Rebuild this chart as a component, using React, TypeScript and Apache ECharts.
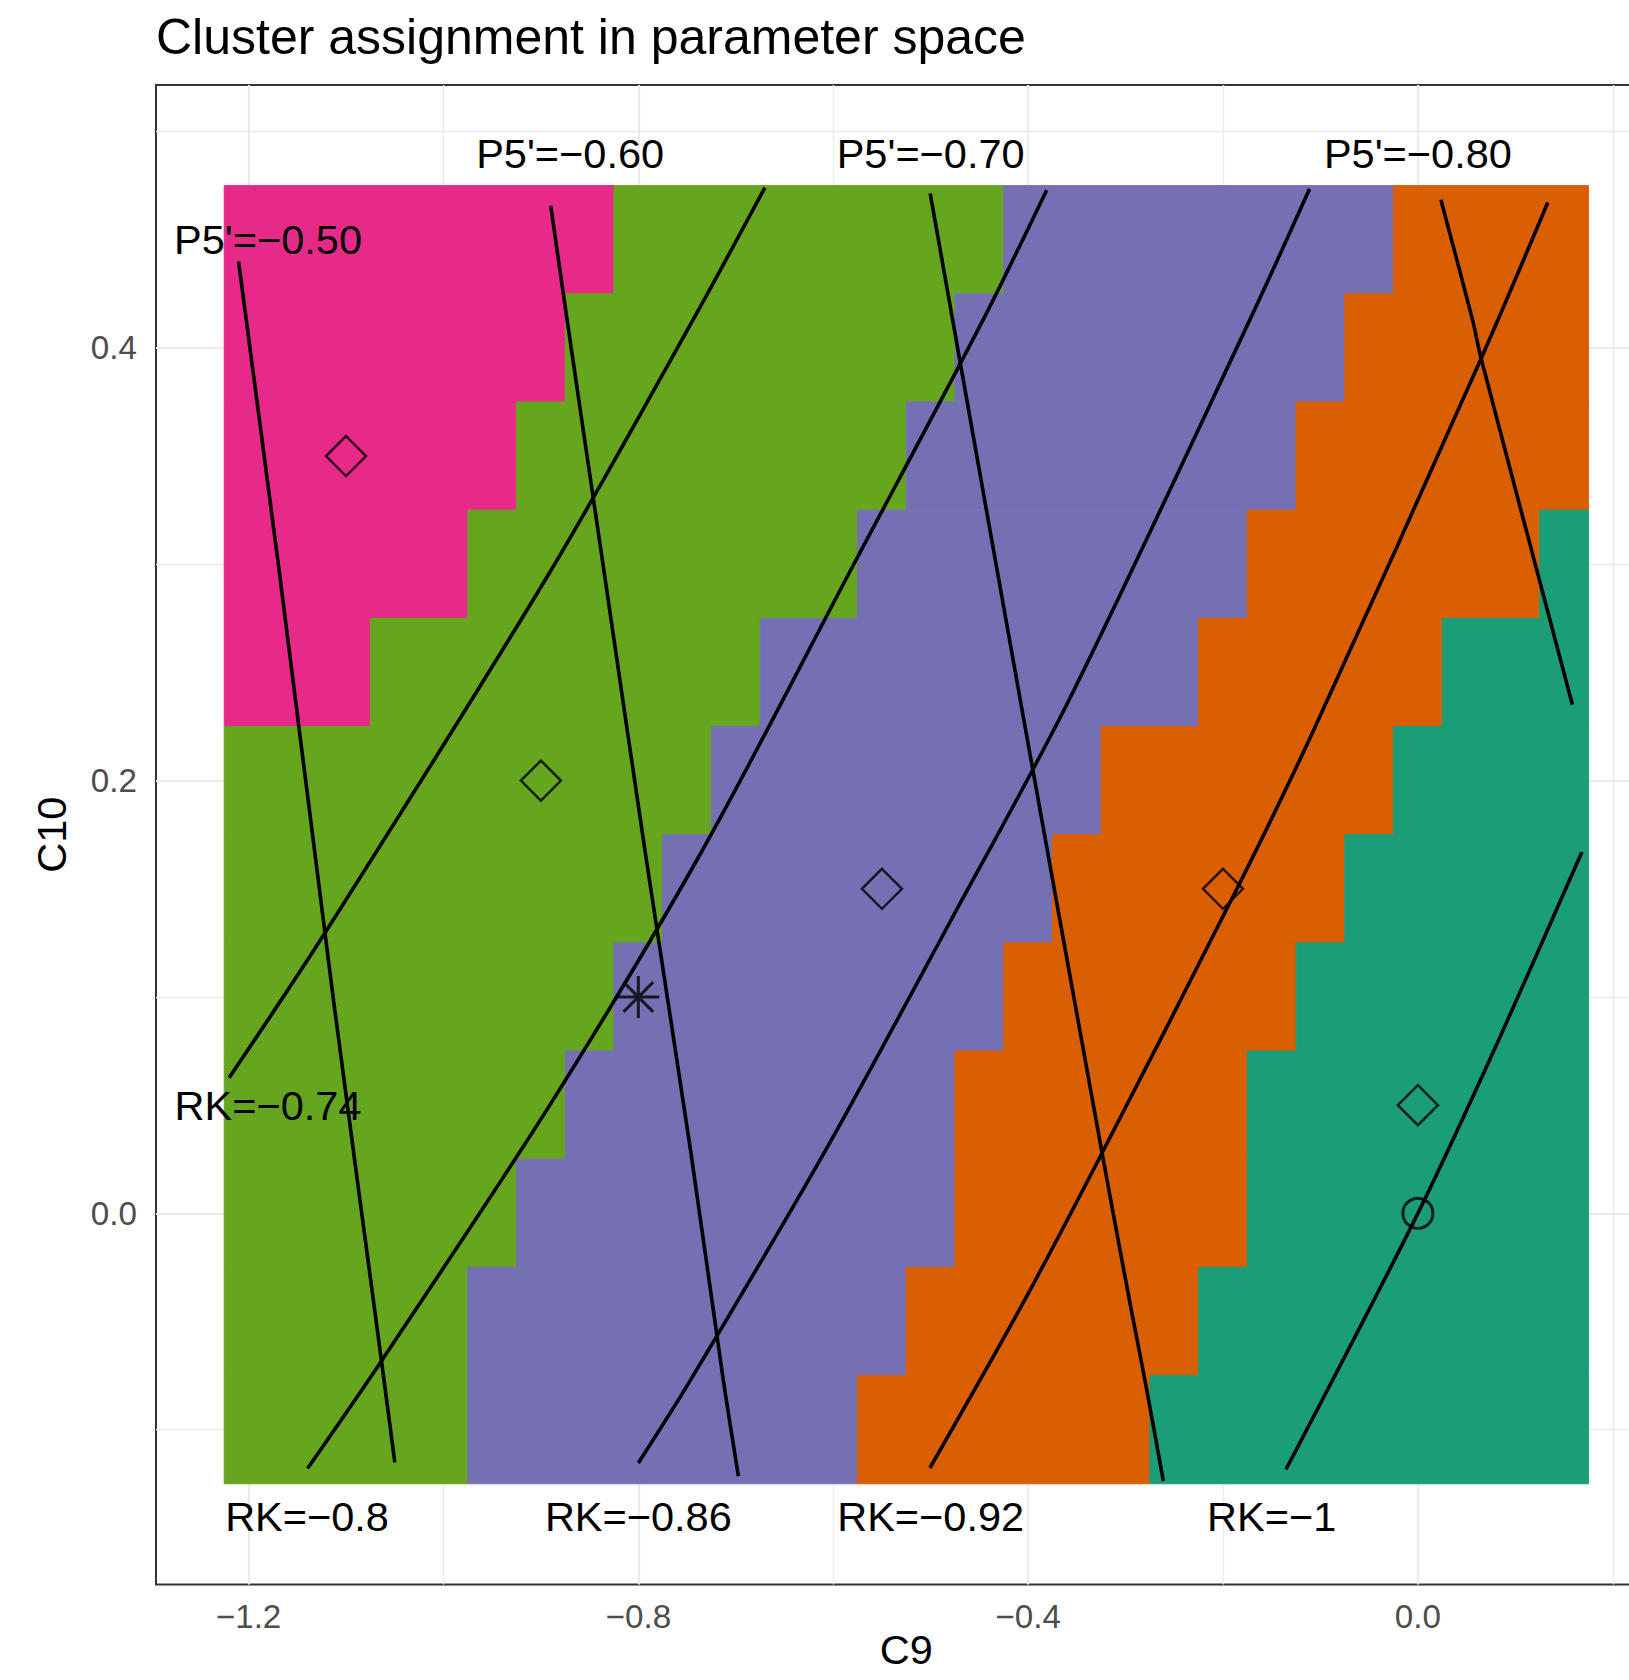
import React, { useEffect, useRef } from "react";
import * as echarts from "echarts";

// ---------- data ----------
const xValues = [-1.2, -1.15, -1.1, -1.05, -1.0, -0.95, -0.9, -0.85, -0.8, -0.75, -0.7, -0.65, -0.6, -0.55, -0.5, -0.45, -0.4, -0.35, -0.3, -0.25, -0.2, -0.15, -0.1, -0.05, 0.0, 0.05, 0.1, 0.15];
const yValues = [0.45, 0.4, 0.35, 0.3, 0.25, 0.2, 0.15, 0.1, 0.05, 0.0, -0.05, -0.1];

// cluster id per cell (rows follow yValues, columns follow xValues)
const clusterRows = [
  [1, 1, 1, 1, 1, 1, 1, 1, 2, 2, 2, 2, 2, 2, 2, 2, 3, 3, 3, 3, 3, 3, 3, 3, 4, 4, 4, 4],
  [1, 1, 1, 1, 1, 1, 1, 2, 2, 2, 2, 2, 2, 2, 2, 3, 3, 3, 3, 3, 3, 3, 3, 4, 4, 4, 4, 4],
  [1, 1, 1, 1, 1, 1, 2, 2, 2, 2, 2, 2, 2, 2, 3, 3, 3, 3, 3, 3, 3, 3, 4, 4, 4, 4, 4, 4],
  [1, 1, 1, 1, 1, 2, 2, 2, 2, 2, 2, 2, 2, 3, 3, 3, 3, 3, 3, 3, 3, 4, 4, 4, 4, 4, 4, 5],
  [1, 1, 1, 2, 2, 2, 2, 2, 2, 2, 2, 3, 3, 3, 3, 3, 3, 3, 3, 3, 4, 4, 4, 4, 4, 5, 5, 5],
  [2, 2, 2, 2, 2, 2, 2, 2, 2, 2, 3, 3, 3, 3, 3, 3, 3, 3, 4, 4, 4, 4, 4, 4, 5, 5, 5, 5],
  [2, 2, 2, 2, 2, 2, 2, 2, 2, 3, 3, 3, 3, 3, 3, 3, 3, 4, 4, 4, 4, 4, 4, 5, 5, 5, 5, 5],
  [2, 2, 2, 2, 2, 2, 2, 2, 3, 3, 3, 3, 3, 3, 3, 3, 4, 4, 4, 4, 4, 4, 5, 5, 5, 5, 5, 5],
  [2, 2, 2, 2, 2, 2, 2, 3, 3, 3, 3, 3, 3, 3, 3, 4, 4, 4, 4, 4, 4, 5, 5, 5, 5, 5, 5, 5],
  [2, 2, 2, 2, 2, 2, 3, 3, 3, 3, 3, 3, 3, 3, 3, 4, 4, 4, 4, 4, 4, 5, 5, 5, 5, 5, 5, 5],
  [2, 2, 2, 2, 2, 3, 3, 3, 3, 3, 3, 3, 3, 3, 4, 4, 4, 4, 4, 4, 5, 5, 5, 5, 5, 5, 5, 5],
  [2, 2, 2, 2, 2, 3, 3, 3, 3, 3, 3, 3, 3, 4, 4, 4, 4, 4, 4, 5, 5, 5, 5, 5, 5, 5, 5, 5],
];

// contour lines of P5' (steep) and RK (diagonal)
const p5Minus050 = [[-1.2103, 0.4399], [-1.1686, 0.297], [-1.1128, 0.0984], [-1.0636, -0.0682], [-1.0499, -0.1152]];
const p5Minus060 = [[-0.8899, 0.4657], [-0.873, 0.4126], [-0.8353, 0.297], [-0.7932, 0.1677], [-0.7464, 0.0291], [-0.7128, -0.0771], [-0.6973, -0.1215]];
const p5Minus070 = [[-0.5005, 0.4714], [-0.4773, 0.4126], [-0.4079, 0.2369], [-0.3241, 0.0279], [-0.2951, -0.0423], [-0.2801, -0.0771], [-0.2612, -0.1238]];
const p5Minus080 = [[0.0236, 0.4685], [0.0563, 0.4126], [0.0649, 0.3951], [0.1586, 0.2351]];

const rkMinus074 = [[-1.2199, 0.0627], [-1.121, 0.13], [-0.8899, 0.297], [-0.7443, 0.4126], [-0.6701, 0.4741]];
const rkMinus080 = [[-1.1395, -0.1179], [-1.0636, -0.0682], [-0.8899, 0.0507], [-0.7344, 0.1677], [-0.5789, 0.3], [-0.4466, 0.4126], [-0.381, 0.4729]];
const rkMinus086 = [[-0.8, -0.1154], [-0.7465, -0.0771], [-0.6079, 0.0291], [-0.4797, 0.135], [-0.3584, 0.2369], [-0.1728, 0.4126], [-0.1112, 0.4734]];
const rkMinus092 = [[-0.5008, -0.1177], [-0.4062, -0.0423], [-0.3241, 0.0279], [-0.1857, 0.15], [-0.1071, 0.2232], [0.0649, 0.3951], [0.1333, 0.4672]];
const rkMinus100 = [[-0.1354, -0.1184], [0.0, 0.0], [0.0827, 0.0799], [0.1682, 0.1669]];

const contourLines = [p5Minus050, p5Minus060, p5Minus070, p5Minus080, rkMinus074, rkMinus080, rkMinus086, rkMinus092, rkMinus100];

// contour labels
const labelTexts = ["P5'=\u22120.50", "P5'=\u22120.60", "P5'=\u22120.70", "P5'=\u22120.80", "RK=\u22120.74", "RK=\u22120.8", "RK=\u22120.86", "RK=\u22120.92", "RK=\u22121"];
const labelX = [-1.18, -0.87, -0.5, 0.0, -1.18, -1.14, -0.8, -0.5, -0.15];
const labelY = [0.45, 0.49, 0.49, 0.49, 0.05, -0.14, -0.14, -0.14, -0.14];

// cluster centres and reference points
const diamondPoints = [[-1.1, 0.35], [-0.9, 0.2], [-0.55, 0.15], [-0.2, 0.15], [0.0, 0.05]];
const circlePoints = [[0.0, 0.0]];
const asteriskPoints = [[-0.8, 0.1]];

// axis ticks / grid
const xTicks = [-1.2, -0.8, -0.4, 0.0];
const xMinor = [-1.0, -0.6, -0.2, 0.2];
const yTicks = [0.0, 0.2, 0.4];
const yMinor = [-0.1, 0.1, 0.3, 0.5];
const xRange = [-1.295, 0.245];
const yRange = [-0.1715, 0.5215];

// ---------- styles ----------
const clusterColors: Record<number, string> = {
  1: "#E7298A",
  2: "#66A61E",
  3: "#7570B3",
  4: "#D95F02",
  5: "#1B9E77",
};
const FONT = "'Liberation Sans', Arial, Helvetica, sans-serif";
const fmt = (v: number) => (v < -1e-9 ? "\u2212" : "") + Math.abs(v).toFixed(1);

export default function App() {
  const ref = useRef<HTMLDivElement>(null);

  useEffect(() => {
    if (!ref.current) return;
    const chart = echarts.init(ref.current, null, { renderer: "svg" });

    const tileW = xValues[1] - xValues[0];
    const tileH = yValues[0] - yValues[1];

    // merge horizontal runs of equal cluster into single rectangles: [xStart, xEnd, y, cluster]
    const runData: number[][] = [];
    yValues.forEach((y, r) => {
      let start = 0;
      for (let k = 1; k <= xValues.length; k++) {
        if (k === xValues.length || clusterRows[r][k] !== clusterRows[r][start]) {
          runData.push([xValues[start], xValues[k - 1], y, clusterRows[r][start]]);
          start = k;
        }
      }
    });

    const gridLineData: any[] = [
      ...xTicks.map((v) => ({ xAxis: v, lineStyle: { width: 2.2 } })),
      ...xMinor.map((v) => ({ xAxis: v, lineStyle: { width: 1.4 } })),
      ...yTicks.map((v) => ({ yAxis: v, lineStyle: { width: 2.2 } })),
      ...yMinor.map((v) => ({ yAxis: v, lineStyle: { width: 1.4 } })),
    ];

    const series: any[] = [
      {
        type: "custom",
        z: 2,
        silent: true,
        encode: { x: [0, 1], y: 2 },
        data: runData,
        renderItem: (params: any, api: any) => {
          const x0 = api.value(0);
          const x1 = api.value(1);
          const y = api.value(2);
          const c = api.value(3);
          const p0 = api.coord([x0 - tileW / 2, y + tileH / 2]);
          const p1 = api.coord([x1 + tileW / 2, y - tileH / 2]);
          return {
            type: "rect",
            shape: { x: p0[0], y: p0[1], width: p1[0] - p0[0], height: p1[1] - p0[1] },
            style: { fill: clusterColors[c], stroke: clusterColors[c], lineWidth: 1 },
          };
        },
      },
    ];

    contourLines.forEach((pts, i) => {
      const s: any = {
        type: "line",
        z: 3,
        silent: true,
        data: pts,
        showSymbol: false,
        symbol: "none",
        smooth: 0.3,
        lineStyle: { color: "#000", width: 3.6 },
      };
      if (i === 0) {
        s.markLine = {
          z: 1,
          silent: true,
          symbol: ["none", "none"],
          label: { show: false },
          lineStyle: { color: "#EBEBEB", type: "solid" },
          emphasis: { disabled: true },
          data: gridLineData,
        };
      }
      series.push(s);
    });

    series.push({
      type: "scatter",
      z: 4,
      silent: true,
      data: diamondPoints,
      symbol: "diamond",
      symbolSize: 40,
      itemStyle: { color: "rgba(0,0,0,0)", borderColor: "#000", borderWidth: 2.5 },
    });
    series.push({
      type: "scatter",
      z: 4,
      silent: true,
      data: circlePoints,
      symbol: "circle",
      symbolSize: 30,
      itemStyle: { color: "rgba(0,0,0,0)", borderColor: "#000", borderWidth: 3 },
    });
    series.push({
      type: "scatter",
      z: 4,
      silent: true,
      data: asteriskPoints,
      symbol: "path://M0,1L2,1M1,0L1,2M0.293,0.293L1.707,1.707M0.293,1.707L1.707,0.293",
      symbolSize: 42,
      itemStyle: { color: "rgba(0,0,0,0)", borderColor: "#000", borderWidth: 3 },
    });
    series.push({
      type: "scatter",
      z: 5,
      silent: true,
      symbolSize: 1,
      itemStyle: { color: "rgba(0,0,0,0)", borderWidth: 0 },
      data: labelTexts.map((t, i) => ({ name: t, value: [labelX[i], labelY[i]] })),
      label: {
        show: true,
        position: "inside",
        formatter: "{b}",
        color: "#000",
        opacity: 1,
        fontSize: 41.5,
        fontFamily: FONT,
        align: "center",
        verticalAlign: "middle",
      },
      labelLayout: { hideOverlap: false },
    });

    chart.setOption({
      animation: false,
      backgroundColor: "#fff",
      title: {
        text: "Cluster assignment in parameter space",
        left: 156,
        top: 12,
        padding: 0,
        textStyle: { fontSize: 50, fontWeight: "normal", color: "#000", fontFamily: FONT },
      },
      grid: {
        left: 156,
        top: 85,
        width: 1500.6,
        height: 1499.4,
        show: true,
        backgroundColor: "#fff",
        borderColor: "#333333",
        borderWidth: 2,
        containLabel: false,
        outerBoundsMode: "none",
      },
      xAxis: {
        type: "value",
        min: xRange[0],
        max: xRange[1],
        name: "C9",
        nameLocation: "middle",
        nameGap: 50,
        nameMoveOverlap: false,
        nameTextStyle: { fontSize: 41.5, lineHeight: 30, color: "#000", fontFamily: FONT },
        axisLine: { show: false },
        splitLine: { show: false },
        axisTick: { show: true, customValues: xTicks, length: 10, lineStyle: { color: "#333333", width: 2 } },
        axisLabel: { customValues: xTicks, formatter: fmt, margin: 16, fontSize: 33.2, color: "#4D4D4D", fontFamily: FONT },
      },
      yAxis: {
        type: "value",
        min: yRange[0],
        max: yRange[1],
        name: "C10",
        nameLocation: "middle",
        nameGap: 84,
        nameRotate: 90,
        nameTextStyle: { fontSize: 41.5, color: "#000", fontFamily: FONT },
        axisLine: { show: false },
        splitLine: { show: false },
        axisTick: { show: true, customValues: yTicks, length: 10, lineStyle: { color: "#333333", width: 2 } },
        axisLabel: { customValues: yTicks, formatter: fmt, margin: 19, fontSize: 33.2, color: "#4D4D4D", fontFamily: FONT },
      },
      series,
    });

    return () => chart.dispose();
  }, []);

  return (
    <div style={{ position: "absolute", left: 0, top: 0, width: 1629, height: 1680, overflow: "hidden", background: "#fff" }}>
      <div ref={ref} style={{ width: 1660, height: 1680 }} />
    </div>
  );
}
